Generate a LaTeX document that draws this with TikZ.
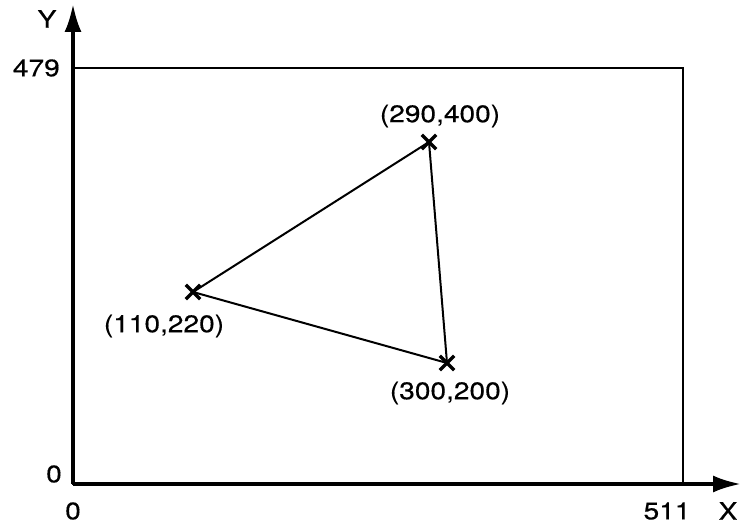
\documentclass[tikz,border=0pt]{standalone}
\usepackage{fontspec}
\setmainfont{TeX Gyre Heros}[FakeStretch=1.17,FakeBold=0.4]
\usetikzlibrary{arrows.meta,shapes.misc}
\tikzset{
  axis/.style={line width=3.5pt,-{Latex[length=28pt,width=17pt]}},
  vertex/.style={cross out,draw,line width=3.3pt,minimum size=11pt,inner sep=0pt},
  lbl/.style={font=\fontsize{24}{28}\selectfont,inner sep=0pt}
}
\begin{document}
\begin{tikzpicture}[x=1pt,y=1pt]
  \useasboundingbox (0,0) rectangle (742,525);
  % Screen frame
  \draw[line width=1.8pt] (73,41) rectangle (683,457);
  % Axes
  \coordinate (o) at (73,41);
  \coordinate (ytip) at (73,521);
  \coordinate (xtip) at (741,41);
  \draw[axis] (o) -- (ytip);
  \draw[axis] (o) -- (xtip);
  \node[lbl] (ylab) at (47,506) {Y};
  \node[lbl] (xlab) at (728,14) {X};
  \node[lbl,anchor=east] (ymax) at (60,457) {479};
  \node[lbl] (yzero) at (54,51) {0};
  \node[lbl] (xzero) at (73,14) {0};
  \node[lbl] (xmax) at (667,14) {511};
  % Triangle
  \node[vertex] (a) at (193,233) {};
  \node[vertex] (b) at (429,383) {};
  \node[vertex] (c) at (447,162) {};
  \draw[line width=2pt] (a.center) -- (b.center) -- (c.center) -- cycle;
  \node[lbl] (alab) at (164,199) {(110,220)};
  \node[lbl] (blab) at (440,409) {(290,400)};
  \node[lbl] (clab) at (450,132) {(300,200)};
\end{tikzpicture}
\end{document}
